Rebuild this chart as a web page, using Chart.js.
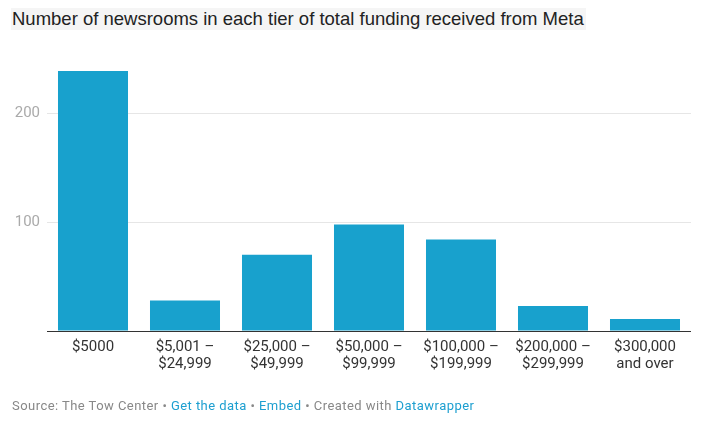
<!DOCTYPE html>
<html>
<head>
<meta charset="utf-8">
<script src="https://cdn.jsdelivr.net/npm/chart.js@4"></script>
<style>
  html, body { margin: 0; padding: 0; background: #fff; }
  body { width: 703px; height: 421px; position: relative; overflow: hidden; }
  #title { position: absolute; left: 11px; top: 8px; height: 22px; line-height: 22px;
    background: #f5f5f5; font-family: "Liberation Sans", Arial, sans-serif; font-size: 18.5px;
    color: #222; padding: 0 2px 0 1px; white-space: nowrap; }
  #footer { position: absolute; left: 12px; top: 398px; font-family: Roboto, sans-serif;
    font-size: 13px; letter-spacing: 0.45px; color: #888; white-space: nowrap; line-height: 16px; }
  #footer .l { color: #1d9fd0; }
  #wrap { position: absolute; left: 0; top: 0; width: 703px; height: 421px; }
</style>
</head>
<body>
<div id="title">Number of newsrooms in each tier of total funding received from Meta</div>
<div id="wrap"><canvas id="c" width="703" height="421"></canvas></div>
<div id="footer">Source: The Tow Center • <span class="l">Get the data</span> • <span class="l">Embed</span> • Created with <span class="l">Datawrapper</span></div>
<script>
const categories = [
  ["$5000"],
  ["$5,001 –", "$24,999"],
  ["$25,000 –", "$49,999"],
  ["$50,000 –", "$99,999"],
  ["$100,000 –", "$199,999"],
  ["$200,000 –", "$299,999"],
  ["$300,000", "and over"]
];
const newsrooms = [239, 28, 70, 98, 84, 23, 11];
const yTicks = [0, 100, 200];

new Chart(document.getElementById('c'), {
  type: 'bar',
  data: {
    labels: categories,
    datasets: [{
      data: newsrooms,
      backgroundColor: '#18a1cd',
      borderWidth: 0,
      categoryPercentage: 1,
      barPercentage: 0.761
    }]
  },
  options: {
    responsive: false,
    animation: false,
    layout: { padding: { top: 59, right: 12, bottom: 0, left: 0 } },
    plugins: { legend: { display: false }, tooltip: { enabled: false }, title: { display: false } },
    scales: {
      x: {
        grid: { display: false, drawTicks: false },
        border: { display: false },
        ticks: {
          color: '#333',
          font: { family: 'Roboto', size: 15, lineHeight: 1.14 },
          padding: 8,
          maxRotation: 0,
          autoSkip: false
        },
        afterFit: (s) => { s.height = 90; }
      },
      y: {
        min: 0,
        max: 250,
        afterBuildTicks: (s) => { s.ticks = yTicks.map(v => ({ value: v })); },
        grid: {
          drawTicks: false,
          color: (ctx) => ctx.tick && ctx.tick.value === 0 ? '#333' : '#e6e6e6',
          lineWidth: 1
        },
        border: { display: false },
        ticks: {
          color: '#aaa',
          font: { family: 'Roboto', size: 15 },
          padding: 7,
          callback: (v) => v === 0 ? '' : String(v)
        },
        afterFit: (s) => { s.width = 47; }
      }
    }
  }
});
</script>
</body>
</html>
